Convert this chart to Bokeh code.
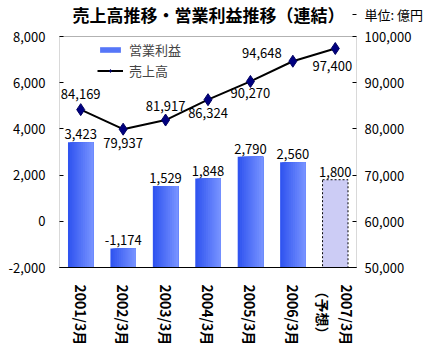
import math
from bokeh.plotting import figure
from bokeh.models import (ColumnDataSource, Range1d, LinearAxis, FixedTicker, NumeralTickFormatter,
                          Legend, LegendItem, Label, FactorRange, BoxAnnotation)
from bokeh.transform import dodge
from bokeh.core.properties import value
from bokeh.embed import file_html
from bokeh.resources import INLINE

# ---- data ----
periods = ["2001/3月", "2002/3月", "2003/3月", "2004/3月", "2005/3月", "2006/3月", "2007/3月\n（予想）"]
op_profit = [3423, -1174, 1529, 1848, 2790, 2560, 1800]
sales = [84169, 79937, 81917, 86324, 90270, 94648, 97400]
forecast_count = 1
left_ticks = [-2000, 0, 2000, 4000, 6000, 8000]
right_ticks = [50000, 60000, 70000, 80000, 90000, 100000]
title_text = "売上高推移・営業利益推移（連結）"
unit_text = "単位: 億円"
bar_name = "営業利益"
line_name = "売上高"

# label placement for sales labels (pixel offsets)
sales_dx = [0, 0, 0, 0, 0, -31, -3]
sales_dy = [-16, 14, -14, 13, 12, -8, 17]

FONT = "Noto Sans CJK JP"
FW = 297          # plot-box width in px
BOX_H = 231       # plot-box height in px
TOP_PAD = 36      # px of header area above the plot box (inside the frame)
FH = BOX_H + TOP_PAD
HEAD_Y = FH - 14  # header text centre, px above frame bottom

l0, l1 = left_ticks[0], left_ticks[-1]
r0, r1 = right_ticks[0], right_ticks[-1]
l_top = l0 + (l1 - l0) * FH / BOX_H
r_top = r0 + (r1 - r0) * FH / BOX_H
unit_val = r0 + (r1 - r0) * HEAD_Y / BOX_H

p = figure(frame_width=FW, frame_height=FH, x_range=FactorRange(*periods), y_range=Range1d(l0, l_top),
           output_backend="svg", toolbar_location=None,
           min_border_left=59, min_border_right=0, min_border_top=0, min_border_bottom=0)
p.extra_y_ranges = {"sales": Range1d(r0, r_top)}

p.outline_line_color = None
p.xgrid.visible = False
p.ygrid.visible = False
p.background_fill_color = "white"

# plot box
p.add_layout(BoxAnnotation(bottom=l0, top=l1, fill_alpha=0, line_color="black", line_width=1))

# axes
p.yaxis.ticker = FixedTicker(ticks=left_ticks)
p.yaxis.formatter = NumeralTickFormatter(format="0,0")
p.yaxis.major_tick_in = 4
p.yaxis.major_tick_out = 0
p.yaxis.minor_tick_line_color = None
p.yaxis.major_label_text_font = FONT
p.yaxis.major_label_text_font_size = "13px"
p.yaxis.major_label_text_color = "black"
p.yaxis.major_label_standoff = 14
p.yaxis.axis_line_color = None

ra = LinearAxis(y_range_name="sales", ticker=FixedTicker(ticks=right_ticks + [unit_val]),
                formatter=NumeralTickFormatter(format="0,0"),
                major_label_overrides={unit_val: unit_text})
ra.major_tick_in = 4
ra.major_tick_out = 0
ra.minor_tick_line_color = None
ra.major_label_text_font = FONT
ra.major_label_text_font_size = "13px"
ra.major_label_text_color = "black"
ra.major_label_standoff = 8
ra.axis_line_color = None
p.add_layout(ra, "right")

p.xaxis.major_tick_line_color = None
p.xaxis.minor_tick_line_color = None
p.xaxis.major_label_orientation = -math.pi / 2
p.xaxis.major_label_text_font = FONT
p.xaxis.major_label_text_font_size = "14px"
p.xaxis.major_label_text_font_style = "bold"
p.xaxis.major_label_text_color = "black"
p.xaxis.major_label_standoff = 11
p.xaxis.axis_line_color = "black"

# bars (actual) with horizontal gradient strips
n_act = len(periods) - forecast_count
act = ColumnDataSource(dict(x=periods[:n_act], top=op_profit[:n_act]))
fc = ColumnDataSource(dict(x=periods[n_act:], top=op_profit[n_act:]))

bar_w = 0.6
N = 12
step = bar_w / N
c0 = (48, 84, 240)
c1 = (118, 146, 255)
bar_renderers = []
for i in range(N):
    t = i / (N - 1)
    col = "#%02x%02x%02x" % tuple(int(round(a + (b - a) * t)) for a, b in zip(c0, c1))
    left = -bar_w / 2 + step * i
    w = bar_w / 2 - left
    off = left + w / 2
    r = p.vbar(x=dodge("x", off, range=p.x_range), top="top", bottom=l0, width=w,
               source=act, fill_color=col, line_color=None)
    bar_renderers.append(r)

p.vbar(x="x", top="top", bottom=l0, width=bar_w, source=fc,
       fill_color="#ccccf5", line_color="black", line_dash="2 2", line_width=1)

# bar value labels
prof_src = ColumnDataSource(dict(x=periods, y=op_profit,
                                 t=["{:,}".format(v) for v in op_profit]))
p.text(x="x", y="y", text="t", source=prof_src, text_align="center", text_baseline="bottom",
       y_offset=-3, text_font=value(FONT), text_font_size="13px", text_color="black")

# sales line
sales_src = ColumnDataSource(dict(x=periods, y=sales, t=["{:,}".format(v) for v in sales],
                                  dx=sales_dx, dy=sales_dy))
lr = p.line(x="x", y="y", source=sales_src, y_range_name="sales", line_color="black", line_width=2)
sr = p.scatter(x="x", y="y", source=sales_src, y_range_name="sales", marker="diamond", size=12,
               fill_color="#000080", line_color="#000060")
p.text(x="x", y="y", text="t", source=sales_src, y_range_name="sales", x_offset="dx", y_offset="dy",
       text_align="center", text_baseline="middle", text_font=value(FONT),
       text_font_size="13px", text_color="black")

legend = Legend(items=[LegendItem(label=bar_name, renderers=[bar_renderers[N // 2]]),
                       LegendItem(label=line_name, renderers=[lr, sr])],
                location=(38, 187), padding=3, spacing=2, margin=0,
                glyph_width=26, glyph_height=7, label_height=17, label_standoff=6,
                label_text_font=FONT, label_text_font_size="13px",
                background_fill_alpha=0, border_line_color=None)
p.add_layout(legend, "center")

p.add_layout(Label(x=13, y=HEAD_Y, x_units="screen", y_units="screen", text=title_text,
                   text_font=FONT, text_font_size="17px", text_font_style="bold",
                   text_baseline="middle", text_align="left", text_color="black"))

open("out.html", "w").write(file_html(p, INLINE))
